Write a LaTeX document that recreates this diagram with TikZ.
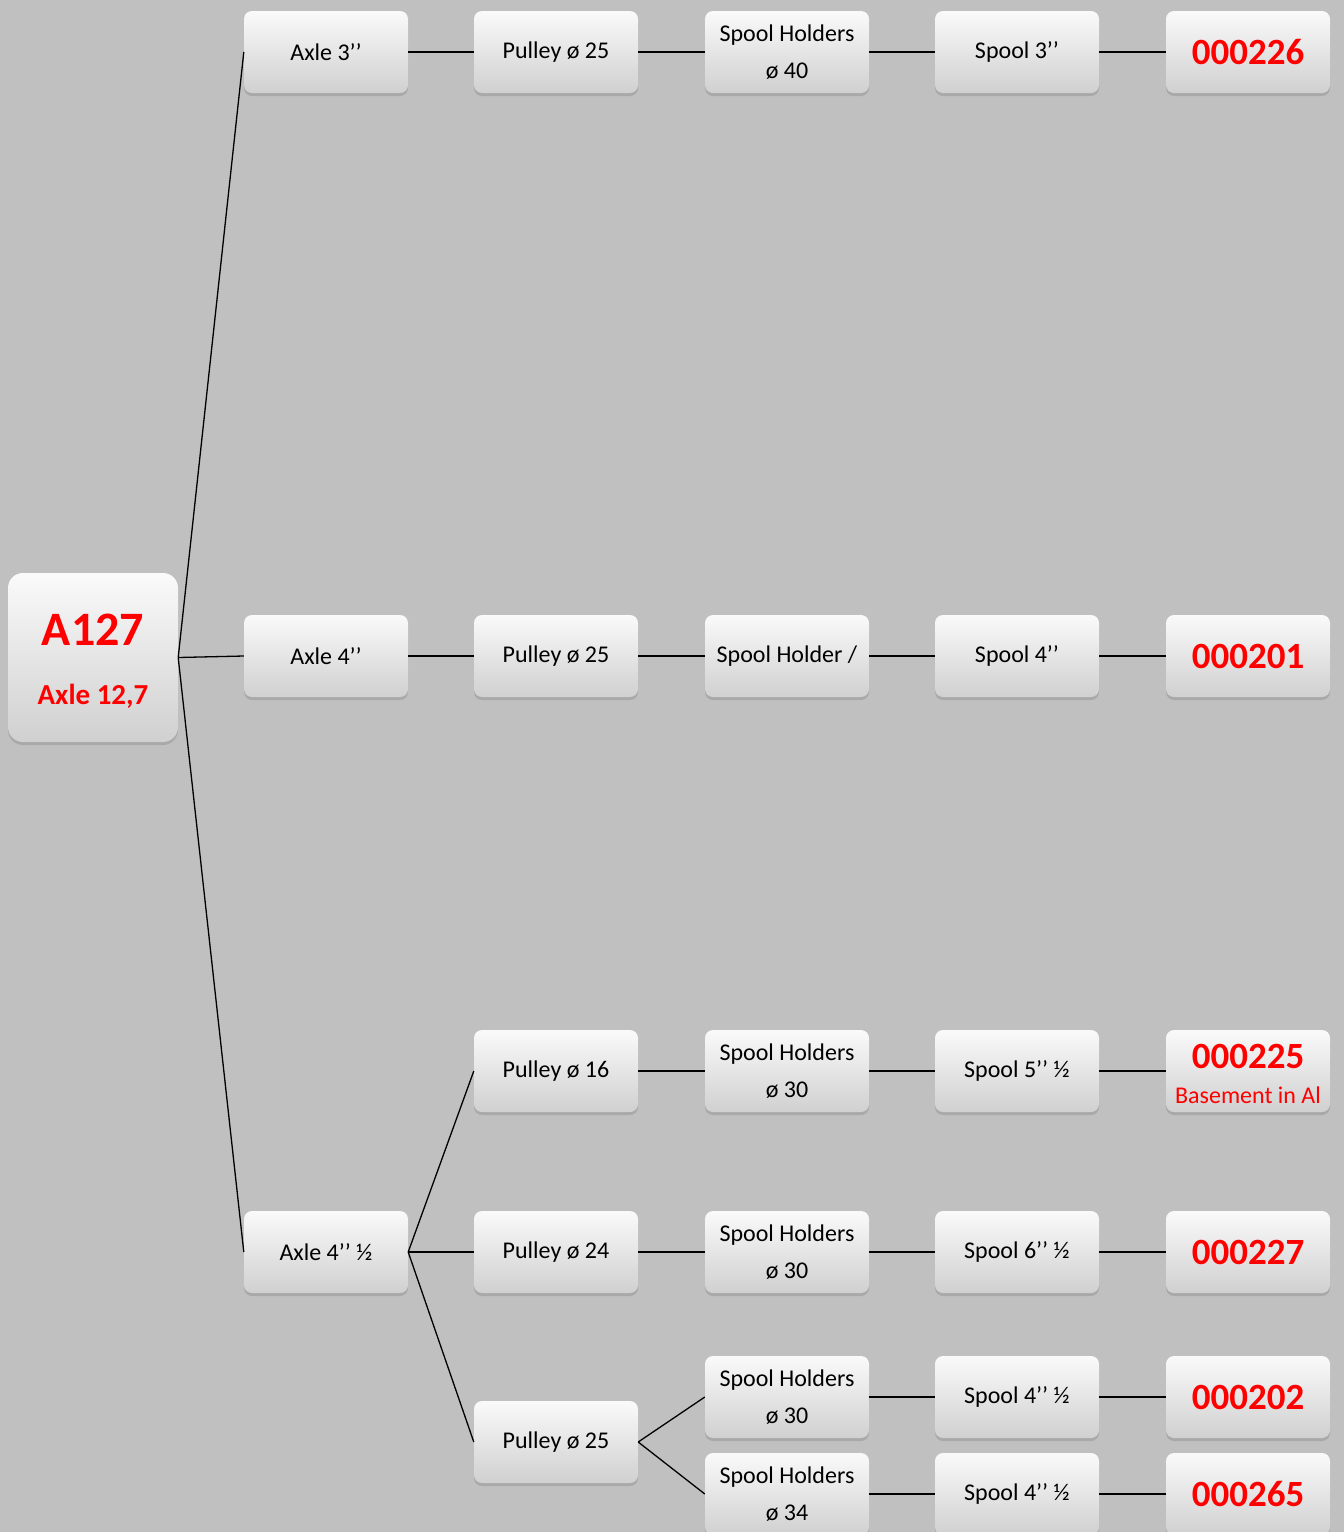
\documentclass[tikz,border=0pt]{standalone}
\usepackage{fontspec}
\setmainfont{Carlito}
\usetikzlibrary{shadows}
\definecolor{bgc}{RGB}{192,192,192}
\definecolor{boxtop}{RGB}{250,250,250}
\definecolor{boxbot}{RGB}{208,208,208}
\definecolor{redc}{RGB}{255,0,0}
\tikzset{
  card/.style={rounded corners=8pt, top color=boxtop, bottom color=boxbot, draw=none,
    minimum width=164pt, minimum height=82pt, inner sep=0pt, align=center,
    font=\fontsize{24}{37}\selectfont, text=black,
    drop shadow={opacity=0.35, shadow xshift=0pt, shadow yshift=-3pt}},
  rootcard/.style={card, rounded corners=15pt, minimum width=170pt, minimum height=169pt},
  code/.style={card, text=redc, font=\fontsize{37}{40}\selectfont\bfseries},
  link/.style={draw=black, line width=1.3pt}
}
\begin{document}
\begin{tikzpicture}[x=1pt,y=1pt]
\fill[bgc] (0,0) rectangle (1344,-1532);
\useasboundingbox (0,0) rectangle (1344,-1532);
% root
\node[rootcard] (root) at (93,-657.5) {{\fontsize{48}{50}\selectfont\bfseries\color{redc}\rule{0pt}{39pt}A127}\\[22pt]{\fontsize{29}{30}\selectfont\bfseries\color{redc}Axle 12,7}};
% row 1
\node[card] (a1) at (326,-52) {Axle 3’’};
\node[card] (p1) at (556,-52) {Pulley ø 25};
\node[card] (h1) at (787,-52) {Spool Holders\\ø 40};
\node[card] (s1) at (1017,-52) {Spool 3’’};
\node[code] (c1) at (1248,-52) {000226};
% row 2
\node[card] (a2) at (326,-656) {Axle 4’’};
\node[card] (p2) at (556,-656) {Pulley ø 25};
\node[card] (h2) at (787,-656) {Spool Holder /};
\node[card] (s2) at (1017,-656) {Spool 4’’};
\node[code] (c2) at (1248,-656) {000201};
% row 3
\node[card] (a3) at (326,-1252) {Axle 4’’ ½};
\node[card] (p3a) at (556,-1071) {Pulley ø 16};
\node[card] (h3a) at (787,-1071) {Spool Holders\\ø 30};
\node[card] (s3a) at (1017,-1071) {Spool 5’’ ½};
\node[card, text=redc] (c3a) at (1248,-1071) {{\fontsize{37}{40}\selectfont\bfseries\rule{0pt}{30pt}000225}\\[-2pt]{\fontsize{24}{26}\selectfont Basement in Al}};
\node[card] (p3b) at (556,-1252) {Pulley ø 24};
\node[card] (h3b) at (787,-1252) {Spool Holders\\ø 30};
\node[card] (s3b) at (1017,-1252) {Spool 6’’ ½};
\node[code] (c3b) at (1248,-1252) {000227};
\node[card] (p3c) at (556,-1442) {Pulley ø 25};
\node[card] (h3c) at (787,-1397) {Spool Holders\\ø 30};
\node[card] (s3c) at (1017,-1397) {Spool 4’’ ½};
\node[code] (c3c) at (1248,-1397) {000202};
\node[card] (h3d) at (787,-1494) {Spool Holders\\ø 34};
\node[card] (s3d) at (1017,-1494) {Spool 4’’ ½};
\node[code] (c3d) at (1248,-1494) {000265};
% connectors
\draw[link] (root.east) -- (a1.west);
\draw[link] (root.east) -- (a2.west);
\draw[link] (root.east) -- (a3.west);
\draw[link] (a1) -- (p1); \draw[link] (p1) -- (h1); \draw[link] (h1) -- (s1); \draw[link] (s1) -- (c1);
\draw[link] (a2) -- (p2); \draw[link] (p2) -- (h2); \draw[link] (h2) -- (s2); \draw[link] (s2) -- (c2);
\draw[link] (a3.east) -- (p3a.west);
\draw[link] (a3.east) -- (p3b.west);
\draw[link] (a3.east) -- (p3c.west);
\draw[link] (p3a) -- (h3a); \draw[link] (h3a) -- (s3a); \draw[link] (s3a) -- (c3a);
\draw[link] (p3b) -- (h3b); \draw[link] (h3b) -- (s3b); \draw[link] (s3b) -- (c3b);
\draw[link] (p3c.east) -- (h3c.west);
\draw[link] (p3c.east) -- (h3d.west);
\draw[link] (h3c) -- (s3c); \draw[link] (s3c) -- (c3c);
\draw[link] (h3d) -- (s3d); \draw[link] (s3d) -- (c3d);
\end{tikzpicture}
\end{document}
